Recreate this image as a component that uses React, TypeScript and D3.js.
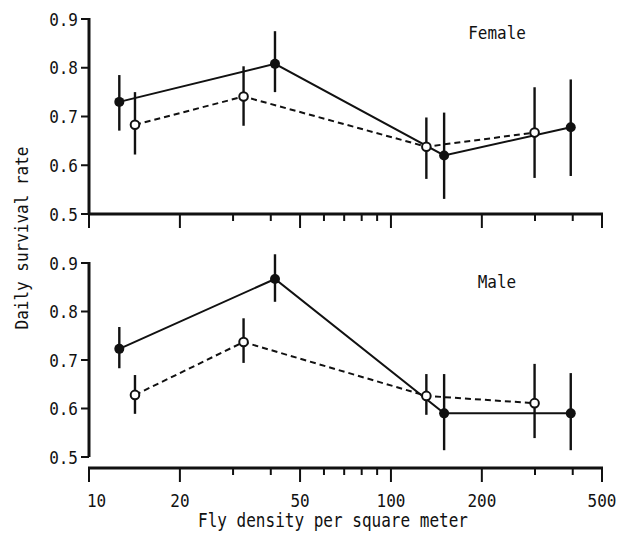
import React from 'react';
import * as d3 from 'd3';

// densities (flies per m^2)
const filledDensity = [12.6, 41.3, 150, 394];
const openDensity = [14.2, 32.5, 131, 299];

// Female
const femaleFilled = [0.730, 0.808, 0.620, 0.678];
const femaleFilledLo = [0.671, 0.750, 0.531, 0.578];
const femaleFilledHi = [0.785, 0.875, 0.708, 0.776];
const femaleOpen = [0.683, 0.741, 0.638, 0.667];
const femaleOpenLo = [0.622, 0.681, 0.572, 0.574];
const femaleOpenHi = [0.750, 0.803, 0.698, 0.760];

// Male
const maleFilled = [0.723, 0.867, 0.590, 0.590];
const maleFilledLo = [0.683, 0.820, 0.514, 0.514];
const maleFilledHi = [0.768, 0.918, 0.671, 0.673];
const maleOpen = [0.628, 0.737, 0.626, 0.611];
const maleOpenLo = [0.589, 0.694, 0.587, 0.539];
const maleOpenHi = [0.669, 0.786, 0.671, 0.692];

const yTicks = [0.5, 0.6, 0.7, 0.8, 0.9];
const xTicks = [10, 20, 30, 40, 50, 60, 70, 80, 90, 100, 200, 300, 400, 500];
const xMajor = [10, 20, 50, 100, 200, 500];

const font = "'DejaVu Sans Mono', 'Liberation Mono', monospace";
const ink = '#111';

const x = d3.scaleLog().domain([10, 500]).range([89, 602]);

type Series = { d: number[]; v: number[]; lo: number[]; hi: number[] };

// typewriter text is a bit taller than DejaVu Mono, so stretch it vertically
const Txt = ({ x, y, anchor = 'middle', size = 16, children }: any) => (
  <text transform={`translate(${x},${y}) scale(1,1.12)`} textAnchor={anchor}
    fontFamily={font} fontSize={size} fill={ink}>
    {children}
  </text>
);

function Panel({ top, bottom, axisY, label, labelY, filled, open, showXLabels }: {
  top: number; bottom: number; axisY: number; label: string; labelY: number;
  filled: Series; open: Series; showXLabels: boolean;
}) {
  const y = d3.scaleLinear().domain([0.5, 0.9]).range([bottom, top]);
  const line = (s: Series) =>
    d3.line<number>().x((_, i) => x(s.d[i])).y((v) => y(v))(s.v) || '';

  const bars = (s: Series) =>
    s.v.map((_, i) => (
      <line key={i} x1={x(s.d[i])} x2={x(s.d[i])} y1={y(s.lo[i])} y2={y(s.hi[i])}
        stroke={ink} strokeWidth={2.4} />
    ));

  return (
    <g>
      {/* y axis */}
      <line x1={89} x2={89} y1={y(0.9) - 1} y2={y(0.5)} stroke={ink} strokeWidth={3} />
      {yTicks.map((t) => (
        <g key={t}>
          <line x1={81} x2={89} y1={y(t)} y2={y(t)} stroke={ink} strokeWidth={2} />
          <Txt x={78} y={y(t) + 6.5} anchor="end">{t.toFixed(1)}</Txt>
        </g>
      ))}
      {/* x axis */}
      <line x1={88} x2={603} y1={axisY} y2={axisY} stroke={ink} strokeWidth={3} />
      {xTicks.map((t) => (
        <line key={t} x1={x(t)} x2={x(t)} y1={axisY} y2={axisY + (xMajor.includes(t) ? 14 : 7)}
          stroke={ink} strokeWidth={2} />
      ))}
      {showXLabels && xMajor.map((t) => (
        <Txt key={t} x={t === 10 ? x(t) - 2 : x(t)} y={axisY + 39} anchor={t === 10 ? 'start' : 'middle'}>
          {t}
        </Txt>
      ))}

      {/* series lines */}
      <path d={line(filled)} fill="none" stroke={ink} strokeWidth={2} />
      <path d={line(open)} fill="none" stroke={ink} strokeWidth={2} strokeDasharray="6,4" />

      {bars(filled)}
      {bars(open)}

      {filled.v.map((v, i) => (
        <circle key={'f' + i} cx={x(filled.d[i])} cy={y(v)} r={5} fill={ink} />
      ))}
      {open.v.map((v, i) => (
        <circle key={'o' + i} cx={x(open.d[i])} cy={y(v)} r={4.3} fill="#fff" stroke={ink} strokeWidth={2} />
      ))}

      <Txt x={497} y={labelY}>{label}</Txt>
    </g>
  );
}

export default function App() {
  return (
    <svg width={619} height={540} style={{ position: 'absolute', left: 0, top: 0, background: '#fff' }}>
      <rect width={619} height={540} fill="#fff" />
      <Panel top={19} bottom={214} axisY={214} label="Female" labelY={39}
        filled={{ d: filledDensity, v: femaleFilled, lo: femaleFilledLo, hi: femaleFilledHi }}
        open={{ d: openDensity, v: femaleOpen, lo: femaleOpenLo, hi: femaleOpenHi }}
        showXLabels={false} />
      <Panel top={263} bottom={457} axisY={468} label="Male" labelY={288}
        filled={{ d: filledDensity, v: maleFilled, lo: maleFilledLo, hi: maleFilledHi }}
        open={{ d: openDensity, v: maleOpen, lo: maleOpenLo, hi: maleOpenHi }}
        showXLabels={true} />
      <text transform="translate(333,527) scale(1,1.12)" textAnchor="middle" fontFamily={font} fontSize={17} fill={ink}
        textLength={270} lengthAdjust="spacingAndGlyphs">
        Fly density per square meter
      </text>
      <text transform="translate(28,238) rotate(-90) scale(1,1.12)" textAnchor="middle" fontFamily={font} fontSize={16} fill={ink}>
        Daily survival rate
      </text>
    </svg>
  );
}
